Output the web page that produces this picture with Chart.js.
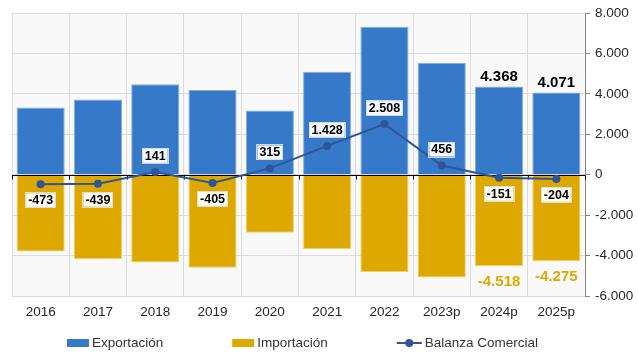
<!DOCTYPE html>
<html>
<head>
<meta charset="utf-8">
<script src="https://cdn.jsdelivr.net/npm/chart.js@4.4.1/dist/chart.umd.min.js"></script>
<style>
  html, body { margin: 0; padding: 0; background: #fff; }
  #chart { display: block; }
</style>
</head>
<body>
<canvas id="chart" width="638" height="358"></canvas>
<script>
// values (millones)
const years = ["2016", "2017", "2018", "2019", "2020", "2021", "2022", "2023p", "2024p", "2025p"];
const exportacion = [3330, 3730, 4480, 4200, 3180, 5100, 7320, 5540, 4368, 4071];
const importacion = [-3803, -4169, -4339, -4605, -2865, -3672, -4812, -5084, -4518, -4275];
const balanza = [-473, -439, 141, -405, 315, 1428, 2508, 456, -151, -204];
const yMin = -6000, yMax = 8000, yStep = 2000;
const labeledYears = ["2024p", "2025p"]; // bars with a value label

const BLUE = "#3779c9";
const GOLD = "#dda800";
const NAVY = "#2f5597";
const GRID = "#dcdcdc";
const FONT = '"Liberation Sans", Arial, sans-serif';

const fmt = v => (v < 0 ? "-" : "") + Math.abs(Math.round(v)).toString().replace(/\B(?=(\d{3})+(?!\d))/g, ".");

const plotBg = {
  id: "plotBg",
  beforeDraw(chart) {
    const { ctx, chartArea: a } = chart;
    ctx.save();
    ctx.fillStyle = "#f9f9f9";
    ctx.fillRect(a.left, a.top, a.width, a.height);
    ctx.restore();
  }
};

// black zero line + small category ticks, drawn over the bars but under the line
const zeroLine = {
  id: "zeroLine",
  afterDatasetDraw(chart, args) {
    if (args.index !== 0) return;
    const { ctx, chartArea: a, scales: { x, y } } = chart;
    const y0 = Math.round(y.getPixelForValue(0)) + 0.5;
    ctx.save();
    ctx.strokeStyle = "#000";
    ctx.lineWidth = 1;
    ctx.beginPath();
    ctx.moveTo(a.left, y0);
    ctx.lineTo(a.right, y0);
    for (let i = 0; i <= years.length; i++) {
      const px = Math.round(x.getPixelForValue(i - 0.5)) + 0.5;
      ctx.moveTo(px, y0);
      ctx.lineTo(px, y0 + 4);
    }
    ctx.stroke();
    ctx.restore();
  }
};

const valueLabels = {
  id: "valueLabels",
  afterDatasetsDraw(chart) {
    const { ctx } = chart;
    ctx.save();
    ctx.textAlign = "center";
    ctx.textBaseline = "middle";

    ctx.font = "bold 12.5px " + FONT;
    chart.getDatasetMeta(2).data.forEach((pt, i) => {
      const v = balanza[i];
      const t = fmt(v);
      const ty = v >= 0 ? pt.y - 16 : pt.y + 16;
      const w = ctx.measureText(t).width + 4, h = 14;
      ctx.fillStyle = "rgba(255,255,255,0.95)";
      ctx.strokeStyle = "rgba(220,225,235,0.9)";
      ctx.lineWidth = 1;
      ctx.fillRect(pt.x - w / 2, ty - h / 2, w, h);
      ctx.strokeRect(Math.round(pt.x - w / 2) - 0.5, Math.round(ty - h / 2) - 0.5, Math.round(w) + 1, h + 1);
      ctx.fillStyle = "#000";
      ctx.fillText(t, pt.x, ty + 0.5);
    });

    ctx.font = "bold 15px " + FONT;
    chart.getDatasetMeta(0).data.forEach((bar, i) => {
      if (!labeledYears.includes(years[i])) return;
      ctx.fillStyle = "#000";
      ctx.fillText(fmt(exportacion[i]), bar.x, bar.y - 10);
    });
    chart.getDatasetMeta(1).data.forEach((bar, i) => {
      if (!labeledYears.includes(years[i])) return;
      ctx.fillStyle = GOLD;
      ctx.fillText(fmt(importacion[i]), bar.x, bar.y + 16);
    });
    ctx.restore();
  }
};

// legend row under the axis
const legendRow = {
  id: "legendRow",
  afterDraw(chart) {
    const { ctx, chartArea: a } = chart;
    ctx.save();
    ctx.font = "13.5px " + FONT;
    ctx.textBaseline = "middle";
    ctx.textAlign = "left";
    const items = chart.data.datasets.map(ds => ({
      ds,
      sw: ds.type === "line" ? 25 : 22,
      tw: ctx.measureText(ds.label).width
    }));
    const gap = 3, between = 69;
    const total = items.reduce((s, it) => s + it.sw + gap + it.tw, 0) + between * (items.length - 1);
    let x = (a.left + a.right) / 2 + 4 - total / 2;
    const cy = 343;
    for (const it of items) {
      const c = it.ds.type === "line" ? it.ds.borderColor : it.ds.backgroundColor;
      if (it.ds.type === "line") {
        ctx.strokeStyle = c;
        ctx.lineWidth = 2;
        ctx.beginPath();
        ctx.moveTo(x, cy);
        ctx.lineTo(x + it.sw, cy);
        ctx.stroke();
        ctx.fillStyle = c;
        ctx.beginPath();
        ctx.arc(x + it.sw / 2, cy, 4, 0, Math.PI * 2);
        ctx.fill();
      } else {
        ctx.fillStyle = c;
        ctx.fillRect(x, cy - 4, it.sw, 8);
      }
      x += it.sw + gap;
      ctx.fillStyle = "#333";
      ctx.fillText(it.ds.label, x, cy + 0.5);
      x += it.tw + between;
    }
    ctx.restore();
  }
};

new Chart(document.getElementById("chart").getContext("2d"), {
  type: "bar",
  data: {
    labels: years,
    datasets: [
      { label: "Exportación", data: exportacion, backgroundColor: BLUE, borderColor: "#86aee0", borderWidth: 1, order: 2 },
      { label: "Importación", data: importacion, backgroundColor: GOLD, borderColor: "#efd06a", borderWidth: 1, order: 3 },
      {
        type: "line", label: "Balanza Comercial", data: balanza, order: 1,
        borderColor: NAVY, borderWidth: 2, tension: 0,
        pointRadius: 4, pointBackgroundColor: NAVY, pointBorderWidth: 0
      }
    ]
  },
  options: {
    responsive: false,
    devicePixelRatio: 1,
    animation: false,
    layout: { padding: { left: 12, top: 13, right: 0, bottom: 32 } },
    datasets: { bar: { categoryPercentage: 1, barPercentage: 0.84 } },
    plugins: { legend: { display: false }, tooltip: { enabled: false } },
    scales: {
      x: {
        stacked: true,
        grid: { color: GRID, drawTicks: false, offset: true },
        border: { color: GRID },
        ticks: { font: { family: FONT, size: 13.5 }, color: "#262626", padding: 8 },
        afterFit(s) { s.height = 30; }
      },
      y: {
        position: "right",
        min: yMin, max: yMax,
        grid: { color: GRID, tickColor: "#888", tickLength: 5 },
        border: { color: "#888" },
        ticks: {
          stepSize: yStep, padding: 5, color: "#262626",
          font: { family: FONT, size: 13.5 },
          callback: v => fmt(v)
        },
        afterFit(s) { s.width = 53; }
      }
    }
  },
  plugins: [plotBg, zeroLine, valueLabels, legendRow]
});
</script>
</body>
</html>
